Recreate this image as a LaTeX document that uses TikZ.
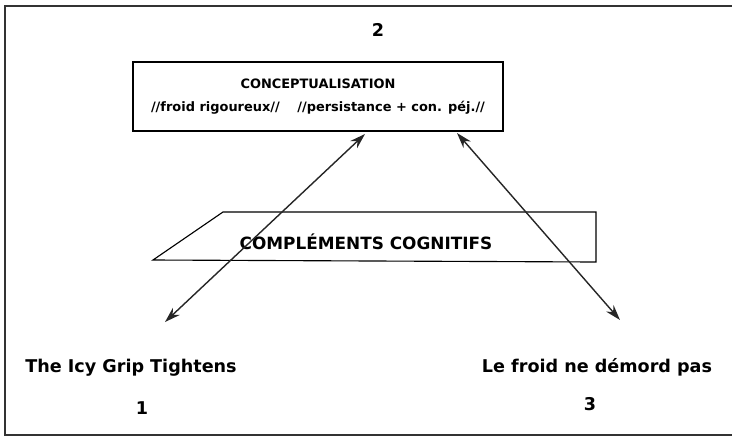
\documentclass[tikz,border=0pt]{standalone}
\usepackage{fontspec}
\setmainfont{DejaVu Sans}
\usetikzlibrary{arrows.meta}

\tikzset{
  lbl/.style={text=black, inner sep=1pt, font=\fontsize{12.5}{15}\selectfont\bfseries},
  boxtxt/.style={text=black, font=\fontsize{9.2}{16.5}\selectfont\bfseries},
  link/.style={{Stealth[length=11pt,width=7pt]}-{Stealth[length=11pt,width=7pt]}, line width=1pt, draw=black!85}
}

\begin{document}
\begin{tikzpicture}[x=0.025cm, y=-0.025cm]
	\useasboundingbox (0,0) rectangle (732,437);
	\draw[line width=1.4pt, black!80] (745,6) -- (5,6) -- (5,435) -- (745,435);

	\node[lbl] (n_2) at (378,30) {2};
	\node[draw=black, line width=0.8pt, shape=rectangle, align=center, minimum width=9.25cm, minimum height=1.725cm, boxtxt, inner sep=0pt] (concept) at (318,96.5) {CONCEPTUALISATION\\//froid rigoureux//\quad\ //persistance + con. péj.//};

	\coordinate (cg_bl) at (153,260);
	\coordinate (cg_tl) at (223,212);
	\coordinate (cg_tr) at (596,212);
	\coordinate (cg_br) at (596,262);
	\draw[line width=0.8pt] (cg_bl) -- (cg_tl) -- (cg_tr) -- (cg_br) -- cycle;
	\node[lbl, font=\fontsize{12}{15}\selectfont\bfseries] (cognitif) at (366,242) {COMPLÉMENTS COGNITIFS};

	\node[lbl] (t_1) at (131,368) {The Icy Grip Tightens};
	\node[lbl] (t_3) at (597,367) {Le froid ne démord pas};
	\node[lbl] (n_1) at (142,408) {1};
	\node[lbl] (n_3) at (590,404) {3};

	\coordinate (a_1) at (365,134);
	\coordinate (b_1) at (165,322);
	\coordinate (a_3) at (457,133);
	\coordinate (b_3) at (620,320);
	\draw[link] (a_1) -- (b_1);
	\draw[link] (a_3) -- (b_3);
\end{tikzpicture}
\end{document}
